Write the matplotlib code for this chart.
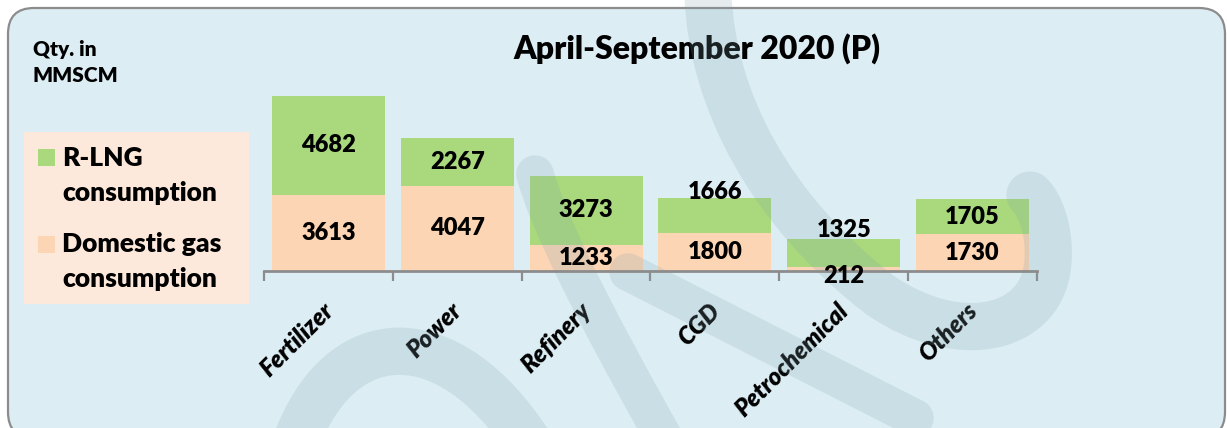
import matplotlib
matplotlib.use("Agg")
import matplotlib.pyplot as plt
import matplotlib.transforms as mtransforms
from matplotlib.patches import FancyBboxPatch, Rectangle, PathPatch
from matplotlib.path import Path
import numpy as np

# ---------------- data ----------------
categories = ["Fertilizer", "Power", "Refinery", "CGD", "Petrochemical", "Others"]
domestic = [3613, 4047, 1233, 1800, 212, 1730]
rlng = [4682, 2267, 3273, 1666, 1325, 1705]
series_names = ["R-LNG\nconsumption", "Domestic gas\nconsumption"]
title = "April-September 2020 (P)"
unit_label = "Qty. in\nMMSCM"

GREEN = "#A9D97C"
PEACH = "#FCD5B4"
BG = "#DCEDF4"
LEG_BG = "#FDE9DB"
GREY = "#8C8C8C"
FONT = ["Lato", "DejaVu Sans"]
WEIGHT = "heavy"

W, H = 1227, 428
fig = plt.figure(figsize=(W / 100, H / 100), dpi=100)
fig.patch.set_facecolor("white")

# background overlay axes in pixel coordinates
bg = fig.add_axes([0, 0, 1, 1])
bg.set_xlim(0, W)
bg.set_ylim(H, 0)
bg.axis("off")
bg.set_zorder(0)

bg.add_patch(FancyBboxPatch((8, 8), 1217, 430, boxstyle="round,pad=0,rounding_size=26",
                            fc=BG, ec=GREY, lw=1.6, zorder=0))

# legend
bg.add_patch(Rectangle((24, 132), 225, 172, fc=LEG_BG, ec="none", zorder=1))
bg.add_patch(Rectangle((38, 149), 17, 17, fc=GREEN, ec="none", zorder=2))
bg.add_patch(Rectangle((38, 236), 17, 17, fc=PEACH, ec="none", zorder=2))
for (name, y0) in zip(series_names, [158, 244]):
    l1, l2 = name.split("\n")
    bg.text(62, y0, l1, fontsize=19, fontweight=WEIGHT, family=FONT, va="center", ha="left", zorder=3)
    bg.text(62, y0 + 35, l2, fontsize=19, fontweight=WEIGHT, family=FONT, va="center", ha="left", zorder=3)

u1, u2 = unit_label.split("\n")
bg.text(33, 49, u1, fontsize=15, fontweight=WEIGHT, family=FONT, va="center", ha="left")
bg.text(33, 75, u2, fontsize=15, fontweight=WEIGHT, family=FONT, va="center", ha="left")

bg.text(697, 49, title, fontsize=23, fontweight=WEIGHT, family=FONT, va="center", ha="center")

# main axes
ax = fig.add_axes([264 / W, (H - 271) / H, 773 / W, 211 / H])
ax.set_zorder(1)
ax.patch.set_visible(False)
x = np.arange(len(categories))
bw = 0.876
ax.bar(x, domestic, width=bw, color=PEACH, zorder=1)
ax.bar(x, rlng, width=bw, bottom=domestic, color=GREEN, zorder=1)
ax.set_xlim(-0.5, len(categories) - 0.5)
ax.set_ylim(0, 10000)

for s in ["top", "left", "right"]:
    ax.spines[s].set_visible(False)
ax.spines["bottom"].set_color(GREY)
ax.spines["bottom"].set_linewidth(2)
ax.set_yticks([])
ax.set_xticks(np.arange(len(categories) + 1) - 0.5)
ax.set_xticklabels([])
ax.tick_params(axis="x", which="major", length=7, width=1.6, color=GREY, direction="out")
ax.set_xticks(x, minor=True)
ax.set_xticklabels(categories, minor=True, rotation=45, ha="right", va="top",
                   rotation_mode="anchor", fontsize=17.5, fontweight=WEIGHT,
                   fontstyle="italic", family=FONT)
ax.tick_params(axis="x", which="minor", length=0, pad=20)
shift = mtransforms.ScaledTranslation(-5 / 72, 0, fig.dpi_scale_trans)
for lab in ax.get_xticklabels(minor=True):
    lab.set_transform(lab.get_transform() + shift)

# data labels (offsets in points for the ones placed off-centre)
dom_off = [0, 0, 0, 0, -5, 0]
rlng_off = [0, 0, 0, 17, 16.5, 0]
for i in range(len(categories)):
    ax.annotate(str(domestic[i]), (x[i], domestic[i] / 2), xytext=(0, dom_off[i]),
                textcoords="offset points", ha="center", va="center",
                fontsize=17, fontweight=WEIGHT, family=FONT, zorder=5)
    ax.annotate(str(rlng[i]), (x[i], domestic[i] + rlng[i] / 2), xytext=(0, rlng_off[i]),
                textcoords="offset points", ha="center", va="center",
                fontsize=17, fontweight=WEIGHT, family=FONT, zorder=5)

# faint watermark strokes (decorative), drawn in pixel coords over the bars
WM = "#82A2AD"
M, C3, C4, L = Path.MOVETO, Path.CURVE3, Path.CURVE4, Path.LINETO
strokes = [
    (Path([(708, -5), (712, 100), (770, 210), (880, 295),
           (960, 350), (1045, 330), (1048, 260),
           (1050, 230), (1040, 205), (1030, 195)],
          [M, C4, C4, C4, C4, C4, C4, C4, C4, C4]), 34),
    (Path([(535, 174), (552, 240), (668, 445)], [M, C3, C3]), 27),
    (Path([(628, 272), (915, 418)], [M, L]), 27),
    (Path([(295, 445), (340, 320), (450, 320), (530, 445)], [M, C4, C4, C4]), 34),
]
for p, lw in strokes:
    pp = PathPatch(p, fc="none", ec=WM, lw=lw, alpha=0.2, capstyle="round",
                   transform=bg.transData, clip_on=False, zorder=2)
    ax.add_patch(pp)

fig.savefig("out.png", dpi=100, facecolor="white")
